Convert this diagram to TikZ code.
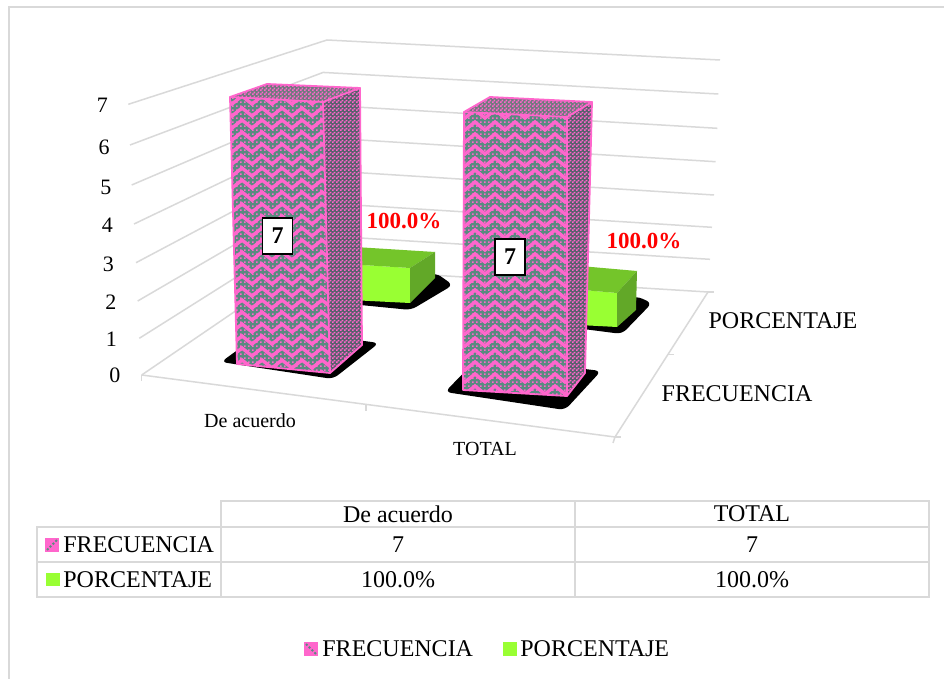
\documentclass[tikz,border=0pt]{standalone}
\usepackage{fontspec}
\setmainfont{Liberation Serif}
\usetikzlibrary{patterns}
\pgfdeclarepatternformonly{sparsedots}{\pgfpointorigin}{\pgfpoint{2pt}{2pt}}{\pgfpoint{2pt}{2pt}}{\pgfpathrectangle{\pgfpointorigin}{\pgfpoint{1pt}{1pt}}\pgfusepath{fill}}
\pgfdeclarepatternformonly{checkdots}{\pgfpointorigin}{\pgfpoint{2pt}{2pt}}{\pgfpoint{2pt}{2pt}}{\pgfpathrectangle{\pgfpointorigin}{\pgfpoint{1pt}{1pt}}\pgfpathrectangle{\pgfpoint{1pt}{1pt}}{\pgfpoint{1pt}{1pt}}\pgfusepath{fill}}
\definecolor{gridc}{HTML}{D9D9D9}
\definecolor{pinkc}{HTML}{FF66CC}
\definecolor{tealc}{HTML}{5A8A80}
\definecolor{darkc}{HTML}{55606A}
\definecolor{topc}{HTML}{6E7A7C}
\definecolor{gfront}{HTML}{99FF33}
\definecolor{gtop}{HTML}{74C52A}
\definecolor{gside}{HTML}{62A828}
\definecolor{redc}{HTML}{FF0000}
\begin{document}
\begin{tikzpicture}[x=0.5pt,y=-0.5pt,
  grid/.style={draw=gridc,line width=0.75pt},
  tbl/.style={draw=gridc,line width=1pt},
  edge/.style={draw=pinkc,line width=0.9pt,line join=round},
  chev/.style={draw=pinkc,line width=1.7pt,line join=miter},
  shad/.style={fill=black,rounded corners=3pt},
  txt/.style={inner sep=0pt,font=\fontsize{12}{14}\selectfont},
  axnum/.style={inner sep=0pt,anchor=east,font=\fontsize{11}{13}\selectfont},
  catlab/.style={inner sep=0pt,font=\fontsize{10}{12}\selectfont},
  redlab/.style={inner sep=0pt,text=redc,font=\bfseries\fontsize{11.5}{13}\selectfont},
  vbox/.style={draw=black,fill=white,line width=0.8pt,inner sep=0pt,minimum width=15pt,minimum height=18pt,font=\bfseries\fontsize{12}{14}\selectfont}]
\useasboundingbox (0,0) rectangle (944,679);
\fill[white] (0,0) rectangle (944,679);
% outer frame
\draw[gridc,line width=1pt] (8.5,679) -- (8.5,7.5) -- (944,7.5);

% gridlines: left wall and back wall
\foreach \k/\lx/\ly/\rx/\ry in {0/141.7/375/708/292,1/139.3/338.3/710/259.3,2/137.7/301/712/227.3,3/136/262.7/714/195,4/134/224/715.7/161.7,5/131.7/185/717.3/128.3,6/130/145/718.3/94,7/128.3/104.3/720/60}{
  \coordinate (L\k) at (\lx,\ly);
  \coordinate (C\k) at ({300+27*\k/7},{267-227*\k/7});
  \coordinate (R\k) at (\rx,\ry);
  \draw[grid] (L\k) -- (C\k) -- (R\k);
}
% floor edges
\coordinate (F) at (615,437);
\draw[grid] (L0) -- (F) -- (R0);
% ticks
\draw[grid] (L0) -- ++(0,6);
\draw[grid] (366,405.5) -- ++(0,6);
\draw[grid] (F) -- ++(-2,6);
\draw[grid] (R0) -- ++(6,0);
\draw[grid] (668,354.4) -- ++(6,0);
\draw[grid] (F) -- ++(6,0);

% axis numbers
\node[axnum] (y0) at (120.7,375) {0};
\node[axnum] (y1) at (117.3,339.5) {1};
\node[axnum] (y2) at (116.7,302.5) {2};
\node[axnum] (y3) at (114.3,264) {3};
\node[axnum] (y4) at (113.3,225) {4};
\node[axnum] (y5) at (111.7,187) {5};
\node[axnum] (y6) at (110,147) {6};
\node[axnum] (y7) at (108.3,105.7) {7};

% ---------- green bar 1 (De acuerdo, PORCENTAJE)
\fill[shad] (330,302) -- (411,310) -- (453,285) -- (436,273) -- cycle;
\fill[gfront] (330,263) -- (410,268) -- (410,303) -- (330,299) -- cycle;
\fill[gtop] (330,263) -- (410,268) -- (435,252) -- (355,247) -- cycle;
\fill[gside] (410,268) -- (435,252) -- (435,278) -- (410,303) -- cycle;
% ---------- green bar 2 (TOTAL, PORCENTAJE)
\fill[shad] (560,326) -- (622,334) -- (652,303) -- (636,296) -- cycle;
\fill[gfront] (560,288) -- (617,293) -- (617,327) -- (560,324) -- cycle;
\fill[gtop] (560,288) -- (617,293) -- (637,271) -- (580,266) -- cycle;
\fill[gside] (617,293) -- (637,271) -- (636,310) -- (617,327) -- cycle;

% red labels
\node[redlab] (p1) at (404,221) {100.0\%};
\node[redlab] (p2) at (644,241) {100.0\%};

% ---------- pink bar 1
\coordinate (a1) at (230,97);
\coordinate (b1) at (323,102);
\coordinate (c1) at (330,373);
\coordinate (d1) at (237,364);
\coordinate (e1) at (360,88);
\coordinate (f1) at (362,345);
\coordinate (g1) at (267,84);
\fill[shad] (221,362) -- (333,379) -- (379,343) -- (268,328) -- cycle;
\fill[tealc] (a1) -- (b1) -- (c1) -- (d1) -- cycle;
\fill[pattern=sparsedots,pattern color=pinkc] (a1) -- (b1) -- (c1) -- (d1) -- cycle;
\begin{scope}
\clip (a1) -- (b1) -- (c1) -- (d1) -- cycle;
\draw[chev] \foreach \r in {84,96,...,390}{(222,\r) \foreach \c in {1,...,6}{ -- ++(10,8) -- ++(10,-8)}};
\end{scope}
\fill[darkc] (b1) -- (e1) -- (f1) -- (c1) -- cycle;
\fill[pattern=checkdots,pattern color=pinkc] (b1) -- (e1) -- (f1) -- (c1) -- cycle;
\fill[topc] (a1) -- (b1) -- (e1) -- (g1) -- cycle;
\fill[pattern=checkdots,pattern color=pinkc] (a1) -- (b1) -- (e1) -- (g1) -- cycle;
\draw[edge] (a1) -- (b1) -- (c1) -- (d1) -- cycle;
\draw[edge] (b1) -- (e1) -- (f1) -- (c1);
\draw[edge] (a1) -- (g1) -- (e1);

% ---------- pink bar 2
\coordinate (a2) at (464,112);
\coordinate (b2) at (567,117);
\coordinate (c2) at (567,396);
\coordinate (d2) at (463,390);
\coordinate (e2) at (592,102);
\coordinate (f2) at (585,373);
\coordinate (g2) at (490,97);
\fill[shad] (445,392) -- (565,410) -- (601,371) -- (480,356) -- cycle;
\fill[tealc] (a2) -- (b2) -- (c2) -- (d2) -- cycle;
\fill[pattern=sparsedots,pattern color=pinkc] (a2) -- (b2) -- (c2) -- (d2) -- cycle;
\begin{scope}
\clip (a2) -- (b2) -- (c2) -- (d2) -- cycle;
\draw[chev] \foreach \r in {98,110,...,410}{(455,\r) \foreach \c in {1,...,6}{ -- ++(10,8) -- ++(10,-8)}};
\end{scope}
\fill[darkc] (b2) -- (e2) -- (f2) -- (c2) -- cycle;
\fill[pattern=checkdots,pattern color=pinkc] (b2) -- (e2) -- (f2) -- (c2) -- cycle;
\fill[topc] (a2) -- (b2) -- (e2) -- (g2) -- cycle;
\fill[pattern=checkdots,pattern color=pinkc] (a2) -- (b2) -- (e2) -- (g2) -- cycle;
\draw[edge] (a2) -- (b2) -- (c2) -- (d2) -- cycle;
\draw[edge] (b2) -- (e2) -- (f2) -- (c2);
\draw[edge] (a2) -- (g2) -- (e2);

% value boxes
\node[vbox] (v1) at (277.5,236) {7};
\node[vbox] (v2) at (510,257) {7};

% category and series labels
\node[catlab] (cat1) at (250,421) {De acuerdo};
\node[catlab] (cat2) at (485,449) {TOTAL};
\node[txt] (ser2) at (783,321) {PORCENTAJE};
\node[txt] (ser1) at (737,394) {FRECUENCIA};

% ---------- data table
\draw[tbl] (221,501) rectangle (929,597);
\draw[tbl] (37,527) rectangle (929,597);
\draw[tbl] (37,562) -- (929,562);
\draw[tbl] (575,501) -- (575,597);
\node[txt] (h1) at (398,514) {De acuerdo};
\node[txt] (h2) at (752,514) {TOTAL};
\node[txt] (t11) at (398,545) {7};
\node[txt] (t12) at (752,545) {7};
\node[txt] (t21) at (398,580) {100.0\%};
\node[txt] (t22) at (752,580) {100.0\%};
\fill[pinkc] (45,538) rectangle (59,552);
\draw[tealc,line width=1pt,dash pattern=on 1pt off 1pt] (47,550) -- (57,540);
\node[txt,anchor=west] (r1) at (63,545) {FRECUENCIA};
\fill[gfront] (46,573) rectangle (59.5,586.5);
\node[txt,anchor=west] (r2) at (63,580) {PORCENTAJE};

% ---------- legend
\fill[pinkc] (304.3,641.7) rectangle (318.3,655.7);
\draw[tealc,line width=1pt,dash pattern=on 1pt off 1pt] (306,644) -- (316,654);
\node[txt,anchor=west] (lg1) at (322,649) {FRECUENCIA};
\fill[gfront] (503.3,641.7) rectangle (517.3,655.7);
\node[txt,anchor=west] (lg2) at (520,649) {PORCENTAJE};
\end{tikzpicture}
\end{document}
